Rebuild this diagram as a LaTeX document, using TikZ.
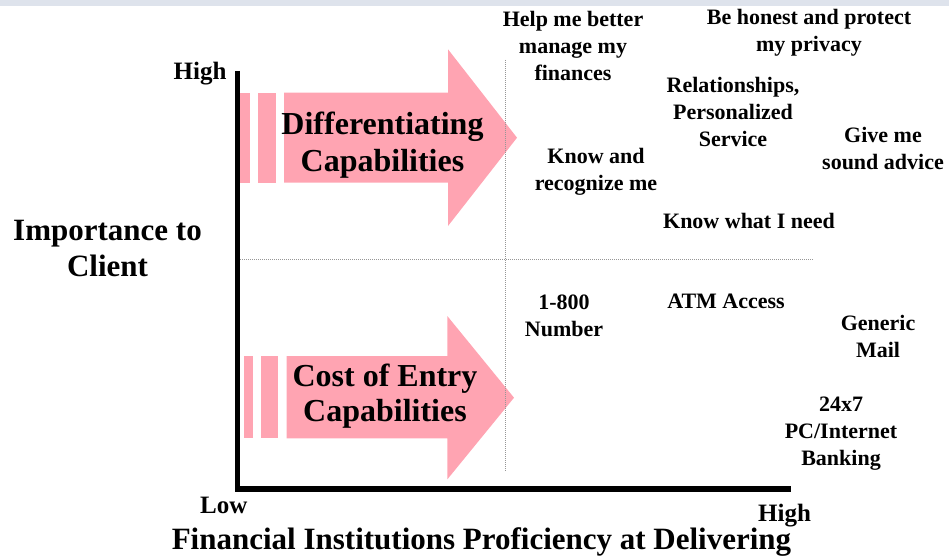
\documentclass[tikz,border=0pt]{standalone}
\usepackage{fontspec}
\setmainfont{Liberation Serif}
\definecolor{arrowpink}{RGB}{255,164,178}
\definecolor{bandgray}{RGB}{222,227,236}
\definecolor{divgray}{RGB}{150,150,150}
\begin{document}
\begin{tikzpicture}[x=1pt,y=-1pt,
  lbl/.style={font=\bfseries\fontsize{22}{27}\selectfont, align=center, inner sep=0pt},
  axlbl/.style={font=\bfseries\fontsize{25}{30}\selectfont, inner sep=0pt},
  ttl/.style={font=\bfseries\fontsize{31}{36.7}\selectfont, align=center, inner sep=0pt},
  arrtxt/.style={font=\bfseries\fontsize{32}{36}\selectfont, align=center, inner sep=0pt},
  arrfill/.style={fill=arrowpink, draw=none},
  divider/.style={draw=divgray, line width=1pt, dash pattern=on 1pt off 1pt},
  axisline/.style={draw=black, line width=5.5pt, line join=miter}]
\useasboundingbox (0,0) rectangle (949,556);

% header band
\fill[bandgray] (0,0) rectangle (949,5.7);

% upper block arrow with trailing bars
\fill[arrfill] (240,92.7) rectangle (250,182.7);
\fill[arrfill] (258,92.7) rectangle (275.7,182.7);
\fill[arrfill] (284,92.7) -- (448,92.7) -- (448,49.3) -- (517,137.7)
  -- (448,226) -- (448,182.7) -- (284,182.7) -- cycle;

% lower block arrow with trailing bars
\fill[arrfill] (244,356) rectangle (252.7,438.3);
\fill[arrfill] (261,356) rectangle (277.7,438.3);
\fill[arrfill] (286.7,356) -- (447.3,356) -- (447.3,316) -- (514,397.7)
  -- (447.3,479.4) -- (447.3,438.3) -- (286.7,438.3) -- cycle;

% quadrant dividers
\coordinate (vtop) at (505,60);
\coordinate (vbot) at (505,472);
\coordinate (hleft) at (240,259);
\coordinate (hright) at (814,259);
\draw[divider] (vtop) -- (vbot);
\draw[divider] (hleft) -- (hright);

% axes
\coordinate (ytop) at (237.5,71);
\coordinate (origin) at (237.5,488.9);
\coordinate (xend) at (791,488.9);
\draw[axisline] (ytop) -- (origin) -- (xend);

% arrow captions
\node[arrtxt] (diff) at (382.5,144.9) {Differentiating\\[0.6pt]Capabilities};
\node[arrtxt] (cost) at (385,395.7) {Cost of Entry\\[-1pt]Capabilities};

% axis labels
\node[axlbl, anchor=base] (yhigh) at (200,79.5) {High};
\node[axlbl, anchor=base] (xlow) at (223.7,513.7) {Low};
\node[axlbl, anchor=base] (xhigh) at (784.5,521) {High};
\node[ttl] (ytitle) at (107.5,248.4) {Importance to\\Client};
\node[ttl, anchor=base] (xtitle) at (481.5,549.5) {Financial Institutions Proficiency at Delivering};

% capability labels
\node[lbl] (finances) at (573,46.2) {Help me better\\manage my\\finances};
\node[lbl] (privacy) at (809,32.8) {Be honest and protect\\my privacy};
\node[lbl] (relations) at (733,112.2) {Relationships,\\Personalized\\Service};
\node[lbl] (advice) at (883,148.6) {Give me\\sound advice};
\node[lbl] (recognize) at (596,171.3) {Know and\\recognize me};
\node[lbl] (need) at (749,221.4) {Know what I need};
\node[lbl] (tollfree) at (564,316.1) {1-800\\Number};
\node[lbl] (atm) at (726,301.4) {ATM Access};
\node[lbl] (mail) at (878,336.7) {Generic\\Mail};
\node[lbl] (online) at (841,434) {24x7\\PC/Internet\\Banking};
\end{tikzpicture}
\end{document}
